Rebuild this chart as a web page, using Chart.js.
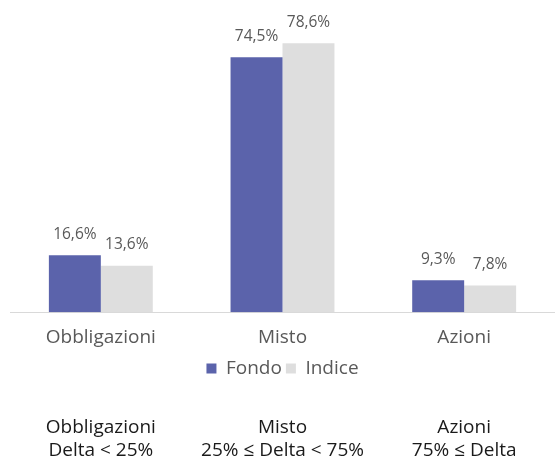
<!DOCTYPE html>
<html>
<head>
<meta charset="utf-8">
<script src="https://cdn.jsdelivr.net/npm/chart.js@4.4.0/dist/chart.umd.min.js"></script>
<style>
  html, body { margin: 0; padding: 0; background: #fff; }
  #wrap { width: 555px; height: 459px; }
</style>
</head>
<body>
<div id="wrap"><canvas id="chart" width="555" height="459"></canvas></div>
<script>
const categories = ['Obbligazioni', 'Misto', 'Azioni'];
const fondoValues = [16.6, 74.5, 9.3];
const indiceValues = [13.6, 78.6, 7.8];
const bottomLabels = [
    ['Obbligazioni', 'Delta < 25%'],
    ['Misto', '25% \u2264 Delta < 75%'],
    ['Azioni', '75% \u2264 Delta']
];

const FONT = '"Open Sans", Lato, sans-serif';

// value labels above each bar
const valueLabels = {
    id: 'valueLabels',
    afterDatasetsDraw(chart) {
        const ctx = chart.ctx;
        ctx.save();
        ctx.font = '15.5px ' + FONT;
        ctx.fillStyle = '#595959';
        ctx.textAlign = 'center';
        ctx.textBaseline = 'middle';
        chart.data.datasets.forEach((ds, i) => {
            chart.getDatasetMeta(i).data.forEach((bar, j) => {
                const txt = ds.data[j].toFixed(1).replace('.', ',') + '%';
                ctx.fillText(txt, bar.x, bar.y - 21);
            });
        });
        ctx.restore();
    }
};

// category descriptions under the legend
const bottomText = {
    id: 'bottomText',
    afterDraw(chart) {
        const ctx = chart.ctx;
        const x = chart.scales.x;
        ctx.save();
        ctx.font = '19px ' + FONT;
        ctx.fillStyle = '#1a1a1a';
        ctx.textAlign = 'center';
        ctx.textBaseline = 'middle';
        bottomLabels.forEach((lines, i) => {
            const cx = x.getPixelForValue(i);
            lines.forEach((l, k) => ctx.fillText(l, cx, 428 + k * 23));
        });
        ctx.restore();
    }
};

new Chart(document.getElementById('chart'), {
    type: 'bar',
    data: {
        labels: categories,
        datasets: [
            {
                label: 'Fondo',
                data: fondoValues,
                backgroundColor: '#5b63ab'
            },
            {
                label: 'Indice',
                data: indiceValues,
                backgroundColor: '#dedede'
            }
        ]
    },
    options: {
        responsive: false,
        animation: false,
        layout: { padding: { left: 10, right: 0, top: 0, bottom: 71 } },
        datasets: {
            bar: { categoryPercentage: 0.572, barPercentage: 1.0 }
        },
        scales: {
            x: {
                grid: { display: false },
                border: { display: true, color: '#d9d9d9', width: 1 },
                ticks: { color: '#595959', font: { family: FONT, size: 19 }, padding: 6 }
            },
            y: {
                display: false,
                min: 0,
                max: 91.2
            }
        },
        plugins: {
            legend: {
                position: 'bottom',
                labels: {
                    boxWidth: 10,
                    boxHeight: 10,
                    color: '#595959',
                    font: { family: FONT, size: 19 },
                    padding: 4
                }
            },
            tooltip: { enabled: false }
        }
    },
    plugins: [valueLabels, bottomText]
});
</script>
</body>
</html>
